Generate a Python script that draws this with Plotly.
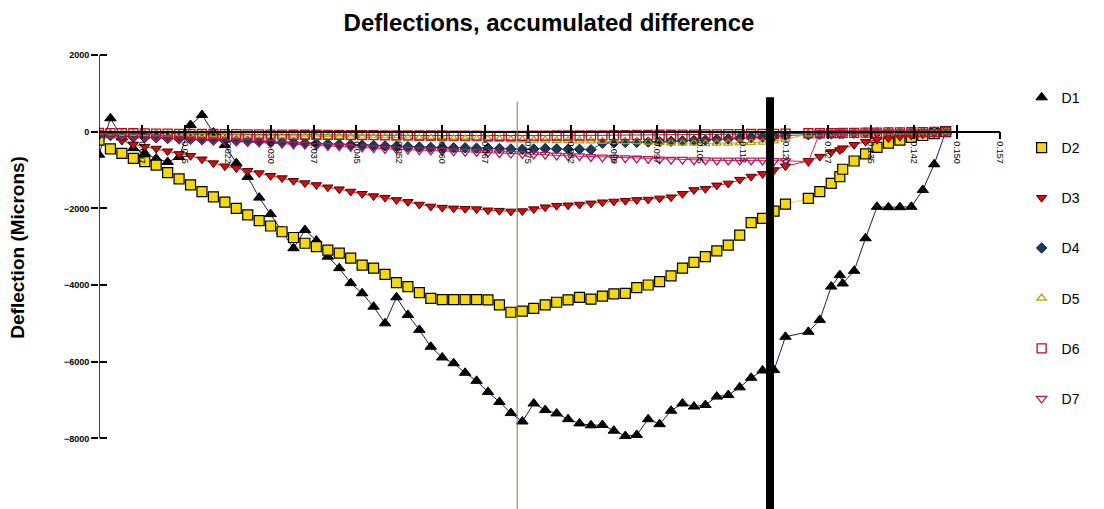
import plotly.graph_objects as go

# shared x values (distance), one irregular step near 0.13
x = [0.000, 0.002, 0.004, 0.006, 0.008, 0.010, 0.012, 0.014, 0.016, 0.018,
     0.020, 0.022, 0.024, 0.026, 0.028, 0.030, 0.032, 0.034, 0.036, 0.038,
     0.040, 0.042, 0.044, 0.046, 0.048, 0.050, 0.052, 0.054, 0.056, 0.058,
     0.060, 0.062, 0.064, 0.066, 0.068, 0.070, 0.072, 0.074, 0.076, 0.078,
     0.080, 0.082, 0.084, 0.086, 0.088, 0.090, 0.092, 0.094, 0.096, 0.098,
     0.100, 0.102, 0.104, 0.106, 0.108, 0.110, 0.112, 0.114, 0.116, 0.118,
     0.120, 0.124, 0.126, 0.128, 0.1295, 0.130, 0.132, 0.134, 0.136, 0.138,
     0.140, 0.142, 0.144, 0.146, 0.148]

d1 = [-600, 350, -150, -430, -560, -700, -790, -660, 175, 435,
      -20, -350, -820, -1180, -1720, -2150, -2600, -3040, -2565, -2840,
      -3260, -3560, -3950, -4215, -4565, -5000, -4320, -4780, -5170, -5610,
      -5890, -6040, -6290, -6500, -6790, -7050, -7340, -7560, -7090, -7260,
      -7350, -7500, -7610, -7660, -7650, -7800, -7940, -7910, -7500, -7630,
      -7280, -7090, -7170, -7130, -6910, -6870, -6670, -6420, -6230, -6220,
      -5350, -5220, -4910, -4040, -3740, -3960, -3630, -2780, -1960, -1970,
      -1970, -1960, -1520, -850, 0]

d2 = [-220, -450, -565, -695, -780, -870, -1070, -1230, -1390, -1565,
      -1700, -1840, -2000, -2170, -2320, -2460, -2610, -2760, -2910, -3000,
      -3090, -3170, -3300, -3480, -3560, -3720, -3940, -4040, -4200, -4350,
      -4380, -4380, -4380, -4380, -4390, -4520, -4710, -4680, -4610, -4520,
      -4450, -4390, -4320, -4370, -4290, -4230, -4220, -4070, -4000, -3910,
      -3760, -3560, -3410, -3260, -3110, -2960, -2700, -2370, -2260, -2070,
      -1890, -1740, -1565, -1350, -1170, -980, -765, -580, -410, -300,
      -220, -150, -100, -50, 0]

d3 = [-50, -100, -230, -330, -390, -440, -510, -580, -630, -720,
      -820, -900, -950, -1020, -1080, -1150, -1210, -1280, -1340, -1390,
      -1450, -1500, -1560, -1620, -1680, -1720, -1780, -1830, -1900, -1950,
      -1980, -2000, -2010, -2020, -2050, -2060, -2080, -2070, -2020, -1970,
      -1930, -1920, -1900, -1870, -1840, -1820, -1800, -1780, -1770, -1740,
      -1710, -1620, -1520, -1490, -1400, -1350, -1250, -1170, -1100, -1000,
      -900, -760, -650, -530, -480, -430, -340, -260, -210, -170,
      -130, -100, -70, -40, 0]

d4 = [-80, -100, -120, -140, -150, -160, -180, -190, -200, -210,
      -220, -230, -240, -250, -260, -270, -280, -290, -300, -310,
      -320, -330, -340, -350, -360, -370, -380, -390, -400, -410,
      -410, -420, -420, -430, -430, -440, -450, -460, -450, -440,
      -450, -460, -460, -470, -300, -290, -280, -280, -270, -260,
      -250, -240, -230, -220, -200, -190, -170, -150, -140, -120,
      -100, -80, -70, -60, -50, -50, -40, -30, -30, -20,
      -20, -10, -10, -5, 0]

d5 = [-20, -30, -40, -40, -50, -50, -60, -60, -70, -70,
      -80, -80, -90, -90, -100, -100, -110, -110, -120, -120,
      -130, -130, -140, -140, -150, -150, -160, -160, -170, -170,
      -180, -180, -190, -190, -200, -200, -210, -210, -220, -220,
      -230, -230, -240, -240, -250, -250, -260, -260, -270, -280,
      -290, -300, -300, -310, -300, -300, -290, -280, -270, -240,
      -200, -60, -50, -40, -40, -30, -30, -20, -20, -20,
      -10, -10, -10, -5, 0]

d6 = [-30, -35, -40, -40, -45, -50, -50, -55, -55, -60,
      -60, -65, -65, -70, -70, -75, -75, -80, -80, -80,
      -85, -85, -90, -90, -90, -95, -95, -95, -100, -100,
      -100, -105, -105, -105, -110, -110, -110, -110, -105, -105,
      -100, -100, -100, -95, -95, -90, -90, -85, -85, -80,
      -80, -75, -75, -70, -70, -65, -65, -60, -60, -55,
      -50, -40, -40, -35, -35, -30, -30, -25, -25, -20,
      -20, -15, -10, -5, 0]

d7 = [-30, -60, -90, -110, -130, -150, -170, -190, -200, -220,
      -230, -240, -250, -260, -280, -300, -310, -330, -340, -360,
      -370, -380, -400, -410, -430, -450, -460, -470, -480, -490,
      -500, -510, -520, -530, -540, -560, -570, -580, -590, -600,
      -620, -630, -640, -660, -670, -680, -690, -700, -710, -720,
      -730, -730, -740, -740, -750, -750, -750, -750, -750, -760,
      -760, -780, -30, -30, -25, -25, -20, -20, -15, -15,
      -10, -10, -5, -5, 0]

names = ["D1", "D2", "D3", "D4", "D5", "D6", "D7"]
series = [d1, d2, d3, d4, d5, d6, d7]

tick_vals = [0.0075, 0.015, 0.0225, 0.030, 0.0375, 0.045, 0.0525, 0.060,
             0.0675, 0.075, 0.0825, 0.090, 0.0975, 0.105, 0.1125, 0.120,
             0.1275, 0.135, 0.1425, 0.150, 0.1575]
tick_text = ["0.007", "0.015", "0.022", "0.030", "0.037", "0.045", "0.052",
             "0.060", "0.067", "0.075", "0.082", "0.090", "0.097", "0.105",
             "0.112", "0.120", "0.127", "0.135", "0.142", "0.150", "0.157"]
y_ticks = [2000, 0, -2000, -4000, -6000, -8000]

line_col = ["#1a1a70", "#f2e020", "#ff1010", "#2050c0", "#c8b020", "#a01020", "#d02060"]
markers = [
    dict(symbol="triangle-up", size=10, color="black", line=dict(color="black", width=1)),
    dict(symbol="square", size=10, color="#f5d80f", line=dict(color="black", width=1.2)),
    dict(symbol="triangle-down", size=9, color="#d01010", line=dict(color="#500000", width=1)),
    dict(symbol="diamond", size=8, color="#1c3a5a", line=dict(color="#0a2040", width=1)),
    dict(symbol="triangle-up-open", size=8, color="#b89a10", line=dict(width=1.3)),
    dict(symbol="square-open", size=9, color="#b01028", line=dict(width=1.3)),
    dict(symbol="triangle-down-open", size=9, color="#b81858", line=dict(width=1.3)),
]

fig = go.Figure()
for nm, ys, lc in zip(names, series, line_col):
    fig.add_trace(go.Scatter(x=x, y=ys, mode="lines", line=dict(color=lc, width=1),
                             showlegend=False, hoverinfo="skip"))
for nm, ys, mk in zip(names, series, markers):
    fig.add_trace(go.Scatter(x=x, y=ys, mode="markers", name=nm, marker=mk,
                             xaxis="x2", yaxis="y2", legendgroup=nm))

y_rng = [-9843, 2392]
x_rng = [0, 0.1575]
zero_pos = (0 - y_rng[0]) / (y_rng[1] - y_rng[0])

# the page body adds an 8px offset, so margins are trimmed to match
fig.update_layout(
    width=1104, height=509,
    margin=dict(l=91, r=112, t=32, b=8),
    paper_bgcolor="white", plot_bgcolor="white",
    font=dict(family="Liberation Sans, Arial", color="black"),
    title=dict(text="<b>Deflections, accumulated difference</b>", x=0.49, xanchor="center",
               y=0.971, yanchor="middle", yref="container", font=dict(size=24)),
    xaxis=dict(range=x_rng, anchor="free", position=zero_pos, showgrid=False, zeroline=False,
               showline=True, linecolor="black", linewidth=1.5,
               tickmode="array", tickvals=tick_vals, ticktext=tick_text, tickangle=90,
               ticks="outside", ticklen=7, tickcolor="black", tickwidth=1.5,
               tickfont=dict(size=9)),
    yaxis=dict(range=y_rng, showgrid=False, zeroline=False, showline=False,
               tickmode="array", tickvals=y_ticks, ticks="outside", ticklen=7,
               tickcolor="black", tickwidth=1.5, tickfont=dict(size=9, weight="bold")),
    xaxis2=dict(range=x_rng, overlaying="x", anchor="free", position=zero_pos,
                showgrid=False, zeroline=False, showline=False, showticklabels=False,
                tickmode="array", tickvals=tick_vals, ticks="inside", ticklen=7,
                tickcolor="black", tickwidth=1.5),
    yaxis2=dict(range=y_rng, overlaying="y", anchor="free", position=0,
                showgrid=False, zeroline=False, showline=False, showticklabels=False,
                tickmode="array", tickvals=y_ticks, ticks="inside", ticklen=7,
                tickcolor="black", tickwidth=1.5),
    legend=dict(x=1.024, xanchor="left", y=0.911, yanchor="top", tracegroupgap=29,
                font=dict(size=14), bgcolor="rgba(0,0,0,0)"),
    showlegend=True,
)

fig.add_annotation(text="<b>Deflection (Microns)</b>", textangle=-90, xref="paper", yref="paper",
                   x=-0.09, xanchor="center", y=0.559, yanchor="middle", showarrow=False,
                   font=dict(size=19))

# y axis line, zero-to-range span only
fig.add_shape(type="line", xref="x", yref="y", x0=0, x1=0, y0=2000, y1=-8000,
              line=dict(color="black", width=1.5))
# thin reference line and thick marker line
fig.add_shape(type="line", xref="x", yref="y", x0=0.0731, x1=0.0731, y0=780, y1=y_rng[0],
              line=dict(color="#7a7a40", width=1))
fig.add_shape(type="line", xref="x", yref="y", x0=0.1173, x1=0.1173, y0=900, y1=y_rng[0],
              line=dict(color="black", width=8))

fig.write_html("out.html")
